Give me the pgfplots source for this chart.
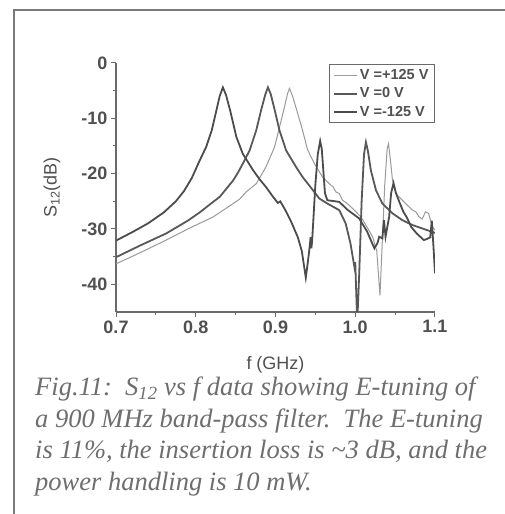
\documentclass[border=0pt]{standalone}
\usepackage{pgfplots}
\pgfplotsset{compat=1.18}
\usepackage{fontspec}
\setmainfont{Liberation Serif}
\setsansfont{Liberation Sans}
\newfontfamily\arial{Liberation Sans}
\definecolor{framec}{HTML}{7A7A7A}
\definecolor{axc}{HTML}{6A6A6A}
\definecolor{txtc}{HTML}{505050}
\definecolor{capc}{HTML}{6E6E6E}
\definecolor{lightc}{HTML}{9A9A9A}
\definecolor{midc}{HTML}{585858}
\definecolor{darkc}{HTML}{4C4C4C}
\begin{document}
\begin{tikzpicture}
\useasboundingbox (0bp,0bp) rectangle (505bp,514bp);
\fill[white] (0bp,0bp) rectangle (505bp,514bp);
\draw[framec, line width=2bp] (14bp,0bp) -- (14bp,504bp) -- (505bp,504bp);
\begin{axis}[
  at={(116bp,202bp)}, anchor=south west,
  scale only axis, width=319bp, height=249bp,
  xmin=0.7, xmax=1.1, ymin=-45, ymax=0,
  axis x line=bottom, axis y line=left,
  axis line style={-, draw=axc, line width=1.2bp},
  tick align=outside,
  major tick length=5bp, minor tick length=3bp,
  minor tick num=1,
  every tick/.style={draw=axc, line width=1bp},
  xtick={0.7,0.8,0.9,1.0,1.1},
  ytick={-40,-30,-20,-10,0},
  /pgf/number format/assume math mode=true,
  xticklabel style={/pgf/number format/.cd, fixed, fixed zerofill, precision=1},
  ticklabel style={font=\arial\bfseries\fontsize{18bp}{20bp}\selectfont, text=txtc},
  xlabel={f (GHz)},
  ylabel={S\textsubscript{12}(dB)},
  every axis x label/.style={at={(axis description cs:0.5,-0.2129)}, anchor=center,
     font=\arial\fontsize{18bp}{20bp}\selectfont, text=txtc},
  every axis y label/.style={at={(axis description cs:-0.2006,0.5)}, anchor=center, rotate=90,
     font=\arial\fontsize{18bp}{20bp}\selectfont, text=txtc},
  clip=true,
  legend style={at={(1,0.995)}, anchor=north east, draw=axc, line width=1bp, fill=white,
    font=\arial\bfseries\fontsize{14.5bp}{17bp}\selectfont, text=txtc,
    inner xsep=4bp, inner ysep=3bp, row sep=2.5bp, cells={anchor=west}},
  legend image code/.code={\draw[#1] (0bp,0bp) -- (23bp,0bp);},
]
% V = +125 V
\addplot[lightc, line width=1bp] coordinates {
(0.700,-36.3) (0.730,-34.3) (0.763,-32.0) (0.790,-30.0) (0.822,-27.8) (0.845,-25.6)
(0.855,-24.6) (0.864,-23.2) (0.876,-21.8) (0.888,-18.8) (0.8988,-15.2) (0.905,-11.6)
(0.9112,-8.0) (0.915,-5.6) (0.9175,-4.6) (0.921,-5.8) (0.926,-8.2) (0.934,-12.2)
(0.940,-15.6) (0.9488,-18.2) (0.959,-20.6) (0.9696,-22.1) (0.972,-22.3) (0.9758,-23.3)
(0.980,-23.6) (0.984,-24.8) (0.990,-25.4) (0.9967,-26.3) (1.007,-27.8) (1.0134,-29.3)
(1.0217,-31.4) (1.027,-34.0) (1.031,-42.0) (1.034,-32.0) (1.037,-22.0) (1.040,-15.5)
(1.0417,-14.6) (1.0446,-18.2) (1.0467,-21.2) (1.051,-23.6) (1.059,-24.8) (1.0675,-26.0)
(1.072,-26.6) (1.076,-26.9) (1.080,-27.8) (1.084,-28.2) (1.088,-26.9) (1.092,-27.2)
(1.0967,-29.6) (1.100,-30.2)
};
\addlegendentry{V =+125 V}
% V = 0 V
\addplot[midc, line width=1.8bp] coordinates {
(0.700,-35.1) (0.730,-33.0) (0.763,-30.8) (0.790,-28.5) (0.805,-27.0) (0.820,-25.3)
(0.830,-24.2) (0.838,-22.8) (0.847,-21.2) (0.853,-19.8) (0.859,-18.2) (0.8675,-15.8)
(0.8758,-12.2) (0.882,-8.5) (0.887,-5.8) (0.8905,-4.4) (0.894,-5.6) (0.899,-8.5)
(0.905,-12.2) (0.9133,-15.8) (0.9258,-18.8) (0.934,-20.6) (0.947,-23.0) (0.955,-24.5)
(0.965,-25.4) (0.975,-26.2) (0.980,-26.6) (0.988,-29.0) (0.994,-32.6) (0.999,-36.9)
(1.000,-36.0) (1.0025,-47.0) (1.005,-38.0) (1.008,-25.0) (1.011,-16.5) (1.0134,-14.3)
(1.016,-16.0) (1.0196,-19.4) (1.026,-23.0) (1.034,-25.4) (1.047,-27.2) (1.059,-28.4)
(1.072,-29.3) (1.084,-29.9) (1.100,-30.7)
};
\addlegendentry{V =0 V}
% V = -125 V
\addplot[darkc, line width=1.8bp] coordinates {
(0.700,-32.1) (0.720,-30.6) (0.740,-29.0) (0.760,-27.0) (0.775,-25.0) (0.785,-23.2)
(0.795,-20.8) (0.805,-17.6) (0.813,-15.2) (0.820,-12.2) (0.826,-8.5) (0.830,-6.0)
(0.834,-4.4) (0.838,-5.8) (0.843,-8.5) (0.851,-13.4) (0.859,-16.4) (0.872,-19.4)
(0.880,-21.0) (0.888,-22.4) (0.897,-24.2) (0.903,-25.3) (0.906,-25.0) (0.912,-26.5)
(0.920,-28.8) (0.928,-31.5) (0.933,-34.0) (0.938,-38.8) (0.941,-35.5) (0.943,-33.0)
(0.944,-31.5) (0.945,-33.5) (0.946,-32.0) (0.950,-22.0) (0.953,-16.5) (0.956,-14.1)
(0.958,-15.5) (0.960,-19.5) (0.962,-23.5) (0.965,-24.8) (0.980,-25.1) (0.990,-26.5)
(1.005,-28.1) (1.015,-30.5) (1.024,-33.5) (1.028,-32.5) (1.030,-31.4) (1.034,-31.7)
(1.036,-28.4) (1.038,-31.4) (1.0425,-27.8) (1.045,-23.5) (1.048,-21.7) (1.051,-23.5)
(1.055,-25.0) (1.060,-26.8) (1.065,-28.0) (1.070,-29.6) (1.077,-30.8) (1.086,-32.0)
(1.090,-31.8) (1.094,-31.5) (1.096,-28.5) (1.098,-33.0) (1.100,-38.0)
};
\addlegendentry{V =-125 V}
\end{axis}
\begin{scope}[every node/.style={anchor=base west, inner sep=0pt, text=capc,
   font=\fontsize{26.5bp}{33bp}\selectfont\itshape}]
\node at (35bp,118bp) {Fig.11:\ \ S\textsubscript{12} vs f data showing E-tuning of};
\node at (35bp,86bp) {a 900 MHz band-pass filter.\ \ The E-tuning};
\node at (35bp,55bp) {is 11\%, the insertion loss is \textasciitilde3 dB, and the};
\node at (35bp,24bp) {power handling is 10 mW.};
\end{scope}
\end{tikzpicture}
\end{document}
